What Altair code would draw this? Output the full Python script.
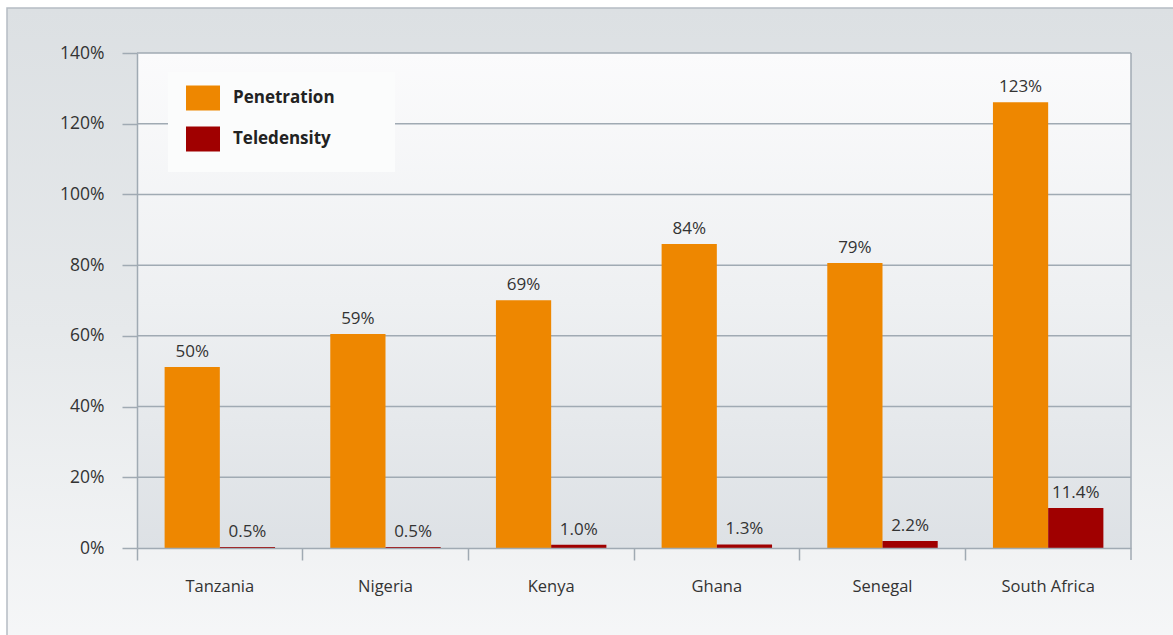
import altair as alt
import pandas as pd

countries = ["Tanzania", "Nigeria", "Kenya", "Ghana", "Senegal", "South Africa"]
series = ["Penetration", "Teledensity"]
penetration = [51.2, 60.5, 70.1, 86.0, 80.6, 126.1]
penetration_labels = ["50%", "59%", "69%", "84%", "79%", "123%"]
teledensity = [0.25, 0.25, 0.9, 1.0, 2.0, 11.3]
teledensity_labels = ["0.5%", "0.5%", "1.0%", "1.3%", "2.2%", "11.4%"]
y_ticks = [0, 20, 40, 60, 80, 100, 120, 140]
colors = ["#ee8700", "#a00000"]

rows = []
for i, c in enumerate(countries):
    rows.append({"country": c, "series": series[0], "value": penetration[i], "label": penetration_labels[i]})
    rows.append({"country": c, "series": series[1], "value": teledensity[i], "label": teledensity_labels[i]})
df = pd.DataFrame(rows)

W, H = 994, 495
FONT = "Open Sans"
TXT = "#333333"
LINE = "#a0aab3"

x_enc = alt.X("country:N", sort=countries, title=None,
              scale=alt.Scale(paddingInner=0, paddingOuter=0),
              axis=alt.Axis(bandPosition=0, tickSize=12, tickColor=LINE, tickWidth=1.5,
                            domainColor=LINE, domainWidth=1.5, labelAngle=0,
                            labelPadding=18, labelFont=FONT, labelFontSize=16.5,
                            labelColor=TXT, grid=False, zindex=1))
xoff = alt.XOffset("series:N", sort=series, scale=alt.Scale(paddingInner=0, paddingOuter=0.5))
y_scale = alt.Scale(domain=[0, 140], nice=False)
y_enc = alt.Y("value:Q", scale=y_scale, title=None,
              axis=alt.Axis(values=y_ticks, labelExpr="datum.value + '%'", tickSize=15,
                            tickColor=LINE, tickWidth=1.5, domainColor=LINE, domainWidth=1.5,
                            labelPadding=18, labelFont=FONT, labelFontSize=17.5, labelColor=TXT,
                            grid=False, zindex=1))

one = pd.DataFrame({"a": [0]})

panel = alt.Chart(one).mark_rect(
    fill=alt.LinearGradient(gradient="linear", x1=0, x2=0, y1=0, y2=1,
                            stops=[alt.GradientStop(color="#dce0e3", offset=0),
                                   alt.GradientStop(color="#e6e9eb", offset=0.5),
                                   alt.GradientStop(color="#f6f7f8", offset=1)]),
    stroke="#b5bcc3", strokeWidth=1.5
).encode(x=alt.value(-130), x2=alt.value(1060), y=alt.value(-45), y2=alt.value(600))

plotbg = alt.Chart(one).mark_rect(
    fill=alt.LinearGradient(gradient="linear", x1=0, x2=0, y1=0, y2=1,
                            stops=[alt.GradientStop(color="#fbfbfc", offset=0),
                                   alt.GradientStop(color="#eef0f2", offset=0.5),
                                   alt.GradientStop(color="#dde1e5", offset=1)])
).encode(x=alt.value(0), x2=alt.value(W), y=alt.value(0), y2=alt.value(H))

grid = alt.Chart(pd.DataFrame({"v": y_ticks[1:]})).mark_rule(color=LINE, strokeWidth=1.5).encode(
    y=alt.Y("v:Q", scale=y_scale), x=alt.value(0), x2=alt.value(W))

right_edge = alt.Chart(one).mark_rule(color=LINE, strokeWidth=1.5).encode(
    x=alt.value(W), y=alt.value(0), y2=alt.value(H + 12))

legend_box = alt.Chart(one).mark_rect(fill="#fbfcfc").encode(
    x=alt.value(31), x2=alt.value(258), y=alt.value(19), y2=alt.value(119))

bars = alt.Chart(df).mark_bar(opacity=1).encode(
    x=x_enc, xOffset=xoff, y=y_enc,
    color=alt.Color("series:N", sort=series, scale=alt.Scale(domain=series, range=colors),
                    legend=alt.Legend(title=None, orient="none", legendX=49, legendY=28,
                                      symbolType="M-1,-0.735H1V0.735H-1Z", symbolSize=1156,
                                      symbolStrokeWidth=0, symbolOpacity=1,
                                      labelFont=FONT, labelFontSize=17, labelFontWeight="bold",
                                      labelColor="#222222", labelOffset=13, rowPadding=11,
                                      padding=0)))

labels = alt.Chart(df).mark_text(font=FONT, fontSize=17, color=TXT, baseline="alphabetic", dy=-10).encode(
    x=alt.X("country:N", sort=countries), xOffset=alt.XOffset("series:N", sort=series),
    y=alt.Y("value:Q", scale=y_scale), text="label:N")

chart = alt.layer(panel, plotbg, grid, right_edge, legend_box, bars, labels).properties(
    width=W, height=H,
    autosize=alt.AutoSizeParams(type="none"),
    padding={"left": 137, "top": 53, "right": 42, "bottom": 87},
    background="white",
).configure_view(stroke=None)

chart.save("out.html", embed_options={"renderer": "svg", "actions": False})
